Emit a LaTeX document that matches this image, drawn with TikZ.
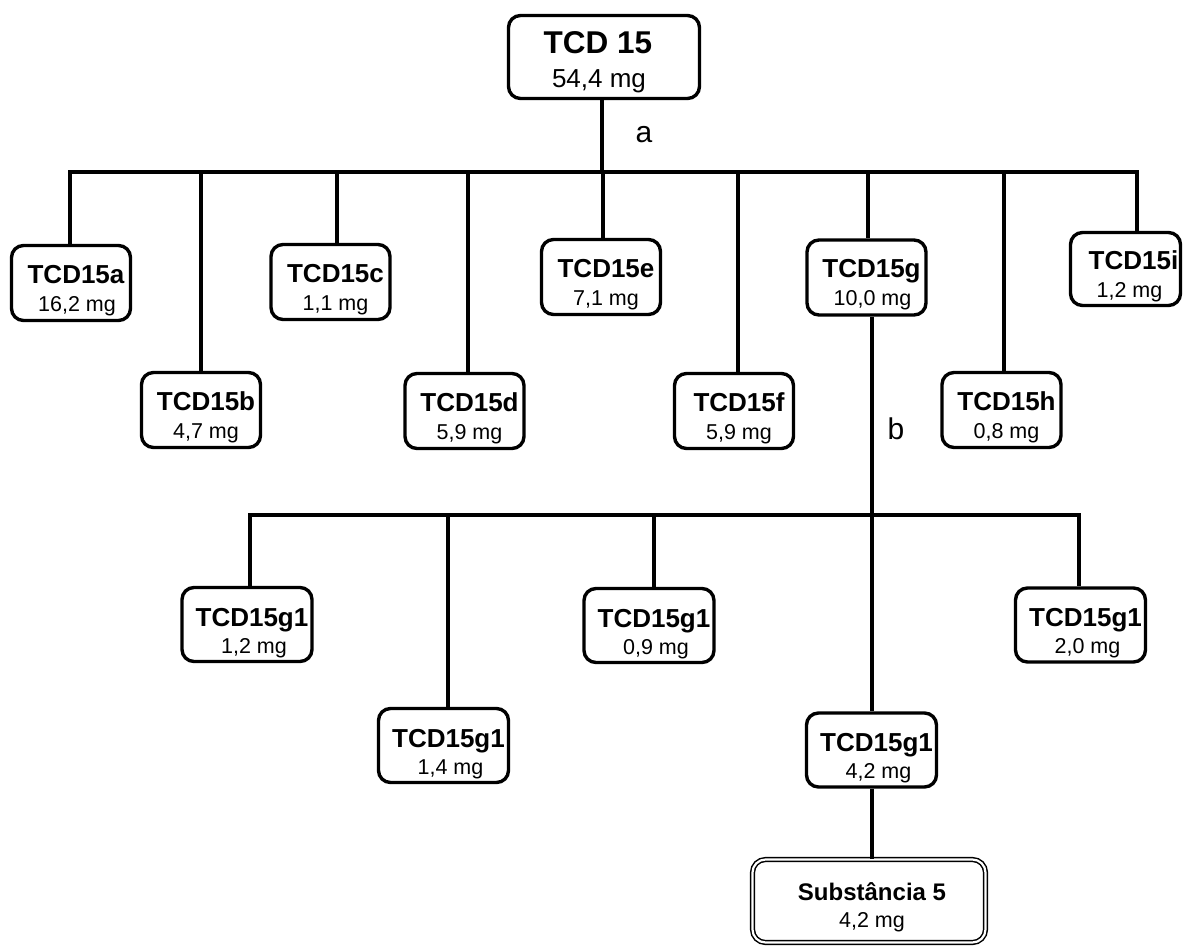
\documentclass[tikz,border=0pt]{standalone}
\usepackage{fontspec}
\setmainfont{Liberation Sans}
\begin{document}
\begin{tikzpicture}[x=1pt,y=-1pt,
  link/.style={line width=3.4pt},
  box/.style={draw, line width=3.4pt, rounded corners=12pt, inner sep=0pt},
  tbox/.style={box, minimum width=119pt, minimum height=75pt},
  gbox/.style={box, minimum width=130pt, minimum height=74pt},
  finalbox/.style={draw, line width=1.5pt, double, double distance=2.2pt,
    rounded corners=13pt, inner sep=0pt, minimum width=233pt, minimum height=83pt},
  ttl/.style={anchor=base, inner sep=0pt, font=\bfseries\fontsize{26}{30}\selectfont},
  mss/.style={anchor=base, inner sep=0pt, font=\fontsize{21.5}{25}\selectfont},
  stepname/.style={anchor=base, inner sep=0pt, font=\fontsize{30}{34}\selectfont}]
\useasboundingbox (0,0) rectangle (1184,946);

% root sample
\node[box, minimum width=191pt, minimum height=83pt] (top) at (604,57) {};
\node[anchor=base, inner sep=0pt, font=\bfseries\fontsize{31.5}{36}\selectfont] (top-t) at ([shift={(-6,-4)}]top.center) {TCD 15};
\node[anchor=base, inner sep=0pt, font=\fontsize{26}{30}\selectfont] (top-m) at ([shift={(-5,30)}]top.center) {54,4 mg};

% first fractionation (a)
\node[tbox] (a) at (71,283) {};
\node[ttl] (a-t) at ([shift={(5,0)}]a.center) {TCD15a};
\node[mss] (a-m) at ([shift={(6,28)}]a.center) {16,2 mg};

\node[tbox] (b) at (201,410) {};
\node[ttl] (b-t) at ([shift={(5,0)}]b.center) {TCD15b};
\node[mss] (b-m) at ([shift={(5,28)}]b.center) {4,7 mg};

\node[tbox] (c) at (330.5,282) {};
\node[ttl] (c-t) at ([shift={(5,0)}]c.center) {TCD15c};
\node[mss] (c-m) at ([shift={(5,28)}]c.center) {1,1 mg};

\node[tbox] (d) at (464.5,411) {};
\node[ttl] (d-t) at ([shift={(5,0)}]d.center) {TCD15d};
\node[mss] (d-m) at ([shift={(5,28)}]d.center) {5,9 mg};

\node[tbox] (e) at (601,277) {};
\node[ttl] (e-t) at ([shift={(5,0)}]e.center) {TCD15e};
\node[mss] (e-m) at ([shift={(5,28)}]e.center) {7,1 mg};

\node[tbox] (f) at (734,411) {};
\node[ttl] (f-t) at ([shift={(5,0)}]f.center) {TCD15f};
\node[mss] (f-m) at ([shift={(5,28)}]f.center) {5,9 mg};

\node[tbox] (g) at (866.5,277.5) {};
\node[ttl] (g-t) at ([shift={(5,0)}]g.center) {TCD15g};
\node[mss] (g-m) at ([shift={(6,28)}]g.center) {10,0 mg};

\node[tbox] (h) at (1001.5,410) {};
\node[ttl] (h-t) at ([shift={(5,0)}]h.center) {TCD15h};
\node[mss] (h-m) at ([shift={(5,28)}]h.center) {0,8 mg};

\node[box, minimum width=110pt, minimum height=73pt] (i) at (1125.5,269) {};
\node[ttl] (i-t) at ([shift={(8,0)}]i.center) {TCD15i};
\node[mss] (i-m) at ([shift={(4,28)}]i.center) {1,2 mg};

% second fractionation (b)
\node[gbox] (g1a) at (247,624.5) {};
\node[ttl] (g1a-t) at ([shift={(5,1.5)}]g1a.center) {TCD15g1};
\node[mss] (g1a-m) at ([shift={(7,28.5)}]g1a.center) {1,2 mg};

\node[gbox] (g1b) at (443.5,745.5) {};
\node[ttl] (g1b-t) at ([shift={(5,1.5)}]g1b.center) {TCD15g1};
\node[mss] (g1b-m) at ([shift={(7,28.5)}]g1b.center) {1,4 mg};

\node[gbox] (g1c) at (649,625.5) {};
\node[ttl] (g1c-t) at ([shift={(5,1.5)}]g1c.center) {TCD15g1};
\node[mss] (g1c-m) at ([shift={(7,28.5)}]g1c.center) {0,9 mg};

\node[gbox] (g1d) at (871.5,750) {};
\node[ttl] (g1d-t) at ([shift={(5,1.5)}]g1d.center) {TCD15g1};
\node[mss] (g1d-m) at ([shift={(7,28.5)}]g1d.center) {4,2 mg};

\node[gbox] (g1e) at (1080.5,625) {};
\node[ttl] (g1e-t) at ([shift={(5,1.5)}]g1e.center) {TCD15g1};
\node[mss] (g1e-m) at ([shift={(7,28.5)}]g1e.center) {2,0 mg};

% isolated compound
\node[finalbox] (s5) at (869,901) {};
\node[anchor=base, inner sep=0pt, font=\bfseries\fontsize{24}{28}\selectfont] (s5-t) at ([shift={(3,-1)}]s5.center) {Substância 5};
\node[mss] (s5-m) at ([shift={(3,26)}]s5.center) {4,2 mg};

% step labels
\node[stepname] (la) at (644,142) {a};
\node[stepname] (lb) at (896,439) {b};

% junctions on the first bar
\coordinate (jtop) at (602,172);
\coordinate (ja) at (70,172);
\coordinate (jb) at (201,172);
\coordinate (jc) at (337,172);
\coordinate (jd) at (468,172);
\coordinate (je) at (603,172);
\coordinate (jf) at (738,172);
\coordinate (jg) at (868,172);
\coordinate (jh) at (1004,172);
\coordinate (ji) at (1137,172);

% junctions on the second bar
\coordinate (kg) at (872,515);
\coordinate (k1) at (250,515);
\coordinate (k2) at (448,515);
\coordinate (k3) at (654,515);
\coordinate (k4) at (872,515);
\coordinate (k5) at (1079,515);

% first tree
\draw[link] (jtop |- top.south) -- (jtop);
\draw[link, line cap=rect] (ja) -- (ji);
\foreach \j/\n in {ja/a, jb/b, jc/c, jd/d, je/e, jf/f, jg/g, jh/h, ji/i}
  \draw[link] (\j) -- (\j |- \n.north);

% second tree
\draw[link] (kg |- g.south) -- (kg);
\draw[link, line cap=rect] (k1) -- (k5);
\foreach \j/\n in {k1/g1a, k2/g1b, k3/g1c, k4/g1d, k5/g1e}
  \draw[link] (\j) -- (\j |- \n.north);

% final purification
\draw[link] (k4 |- g1d.south) -- (k4 |- s5.north);
\end{tikzpicture}
\end{document}
